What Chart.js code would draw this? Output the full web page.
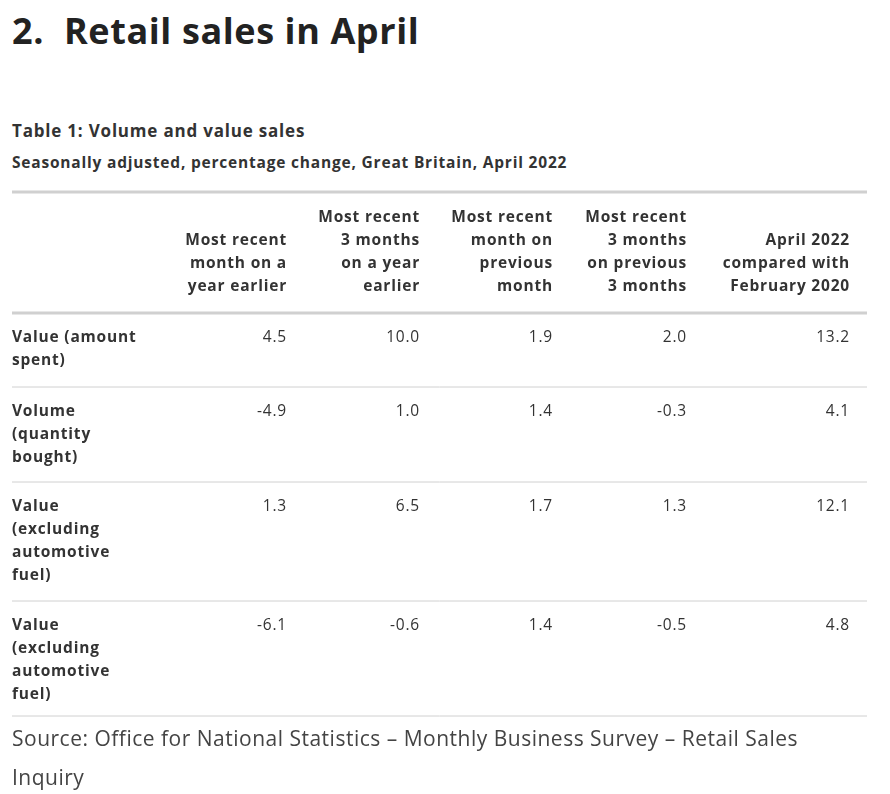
<!DOCTYPE html>
<html><head><meta charset="utf-8">
<script src="https://cdn.jsdelivr.net/npm/chart.js@4"></script>
<style>
body{margin:0;width:890px;height:794px;background:#fff;font-family:"Open Sans",sans-serif;color:#222;position:relative;overflow:hidden}
h1{position:absolute;left:12px;top:6px;margin:0;font-size:36px;font-weight:700;color:#222;letter-spacing:0.6px}
.t1{position:absolute;left:12px;top:119px;font-size:17px;font-weight:700;color:#333;letter-spacing:0.8px}
.t2{position:absolute;left:12px;top:151px;font-size:15.5px;font-weight:700;color:#333;letter-spacing:0.8px}
#wrap{position:absolute;left:0;top:190px;width:890px;height:530px}
.src{position:absolute;left:12px;top:719px;font-size:21px;line-height:39px;color:#444;width:800px;letter-spacing:0.5px}
</style></head><body>
<h1>2.&nbsp; Retail sales in April</h1>
<div class="t1">Table 1: Volume and value sales</div>
<div class="t2">Seasonally adjusted, percentage change, Great Britain, April 2022</div>
<div id="wrap"><canvas id="c" width="890" height="530"></canvas></div>
<div class="src">Source: Office for National Statistics – Monthly Business Survey – Retail Sales Inquiry</div>
<script>
// TABLE DATA
const columns = [
  ['Most recent', 'month on a', 'year earlier'],
  ['Most recent', '3 months', 'on a year', 'earlier'],
  ['Most recent', 'month on', 'previous', 'month'],
  ['Most recent', '3 months', 'on previous', '3 months'],
  ['April 2022', 'compared with', 'February 2020']
];
const rowLabels = [
  ['Value (amount', 'spent)'],
  ['Volume', '(quantity', 'bought)'],
  ['Value', '(excluding', 'automotive', 'fuel)'],
  ['Value', '(excluding', 'automotive', 'fuel)']
];
const valueSpent = [4.5, 10.0, 1.9, 2.0, 13.2];
const volumeBought = [-4.9, 1.0, 1.4, -0.3, 4.1];
const valueExFuel = [1.3, 6.5, 1.7, 1.3, 12.1];
const volumeExFuel = [-6.1, -0.6, 1.4, -0.5, 4.8];
const rows = [valueSpent, volumeBought, valueExFuel, volumeExFuel];

// layout (canvas px): right edge of each column, top of each row
const colRight = [287, 420, 553, 687, 850];
const rowTop = [123, 197, 292, 411];
const LH = 23;

const points = [];
rows.forEach((r, ri) => r.forEach((v, ci) => points.push({x: colRight[ci], y: rowTop[ri], v})));

const tablePlugin = {
  id: 'table',
  afterDraw(chart) {
    const ctx = chart.ctx, xs = chart.scales.x, ys = chart.scales.y;
    ctx.save();
    const hline = (y, w) => {
      ctx.strokeStyle = '#d0d0d0'; ctx.lineWidth = w;
      ctx.beginPath(); ctx.moveTo(xs.getPixelForValue(12), ys.getPixelForValue(y));
      ctx.lineTo(xs.getPixelForValue(867), ys.getPixelForValue(y)); ctx.stroke();
    };
    hline(2, 3); hline(123, 3);
    [197, 292, 411, 526].forEach(y => hline(y, 1));
    ctx.fillStyle = '#333'; ctx.textBaseline = 'middle';
    ctx.letterSpacing = '0.8px';
    ctx.font = 'bold 15.5px "Open Sans"'; ctx.textAlign = 'right';
    columns.forEach((lines, ci) => {
      lines.forEach((t, li) => {
        const y = 97 - (lines.length - 1 - li) * LH;
        ctx.fillText(t, xs.getPixelForValue(colRight[ci]), ys.getPixelForValue(y));
      });
    });
    ctx.textAlign = 'left';
    rowLabels.forEach((lines, ri) => lines.forEach((t, li) =>
      ctx.fillText(t, xs.getPixelForValue(12), ys.getPixelForValue(rowTop[ri] + 25 + li * LH))));
    ctx.font = '15.5px "Open Sans"'; ctx.textAlign = 'right';
    points.forEach(p => ctx.fillText(p.v.toFixed(1), xs.getPixelForValue(p.x), ys.getPixelForValue(p.y + 25)));
    ctx.restore();
  }
};

new Chart(document.getElementById('c'), {
  type: 'scatter',
  data: { datasets: [{ data: points, pointRadius: 0 }] },
  options: {
    responsive: false, animation: false,
    layout: { padding: 0 },
    plugins: { legend: { display: false }, tooltip: { enabled: false } },
    scales: {
      x: { type: 'linear', min: 0, max: 890, display: false },
      y: { type: 'linear', min: 0, max: 530, reverse: true, display: false }
    }
  },
  plugins: [tablePlugin]
});
</script>
</body></html>
